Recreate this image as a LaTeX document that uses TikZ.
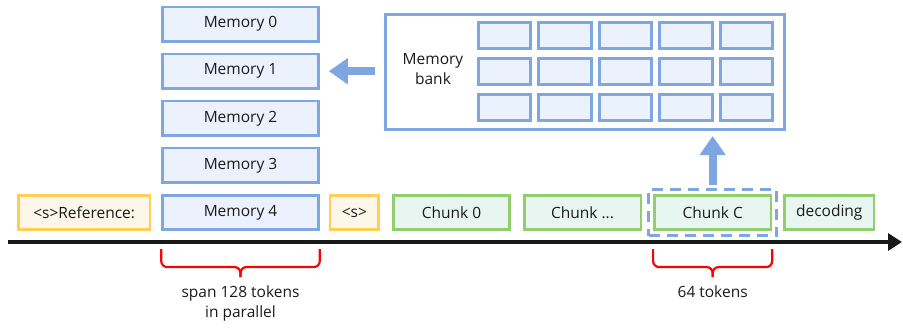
\documentclass[tikz,border=0pt]{standalone}
\usepackage{fontspec}
\setmainfont{Open Sans}
\usepackage{xcolor}
\usepackage{tikz}
\usetikzlibrary{arrows.meta, positioning, fit}

\definecolor{memblue}{HTML}{7EA6E0}
\definecolor{memfill}{HTML}{EBF2FD}
\definecolor{tokyellow}{HTML}{FFCF55}
\definecolor{tokfill}{HTML}{FFF6EA}
\definecolor{chkgreen}{HTML}{92CE6E}
\definecolor{chkfill}{HTML}{E8F6F2}
\definecolor{txtgray}{HTML}{1A1A1A}

\begin{document}
\begin{tikzpicture}[
  x=1pt, y=1pt,
  node distance=10pt and 11pt,
  font=\fontsize{15.5}{20}\selectfont, text=txtgray,
  memory/.style={draw=memblue, fill=memfill, line width=2.6pt, minimum width=156pt, minimum height=34.5pt, inner sep=0pt},
  token/.style={draw=tokyellow, fill=tokfill, line width=2.6pt, minimum height=34.5pt, inner sep=0pt},
  chunk/.style={draw=chkgreen, fill=chkfill, line width=2.6pt, minimum width=116.5pt, minimum height=34.5pt, inner sep=0pt},
  cell/.style={draw=memblue, fill=memfill, line width=2.6pt, minimum width=52.5pt, minimum height=26.5pt},
  bigarrow/.style={memblue, line width=8pt, -{Triangle[length=19pt, width=25pt]}},
  redbrace/.style={red, line width=2.2pt, rounded corners=6pt},
  axis/.style={black!90, line width=3.2pt, -{Triangle[length=14pt, width=17pt]}}
]
\useasboundingbox (0,0) rectangle (903,-327);

% Memory stack
\node[memory] (mem4) at (240.5,-212.5) {Memory 4};
\node[memory, above=of mem4] (mem3) {Memory 3};
\node[memory, above=of mem3] (mem2) {Memory 2};
\node[memory, above=of mem2] (mem1) {Memory 1};
\node[memory, above=of mem1] (mem0) {Memory 0};

% Token row
\node[token, minimum width=131.5pt, left=10pt of mem4] (ref) {<s>Reference:};
\node[token, minimum width=48.5pt, right=9pt of mem4] (bos) {<s>};
\node[chunk, right=12pt of bos] (chunk0) {Chunk 0};
\node[chunk, right=12pt of chunk0] (chunkd) {Chunk ...};
\node[chunk, right=of chunkd] (chunkC) {Chunk C};
\node[chunk, minimum width=89.5pt, right=of chunkC] (dec) {decoding};
\node[draw=memblue, line width=2.6pt, dash pattern=on 11pt off 7pt, fit=(chunkC), inner sep=4.5pt] (sel) {};

% Memory bank
\node[draw=memblue, fill=white, line width=2.6pt, minimum width=399.5pt, minimum height=115.5pt] (bank) at (585,-72) {};
\node[align=center] (banklbl) at (433,-69) {Memory\\bank};
\foreach \r in {0,1,2}
  \foreach \c in {0,...,4}
    \node[cell] (cell\r\c) at (504.5+60.5*\c, -35.5-36*\r) {};

% Arrows
\coordinate (bankin) at ([xshift=-9pt]bank.west);
\draw[bigarrow] (bankin |- mem1.east) -- ([xshift=9pt]mem1.east);
\coordinate (bankout) at ([yshift=-5pt]bank.south);
\draw[bigarrow] ([yshift=3pt]sel.north) -- (sel.north |- bankout);

% Time axis
\coordinate (axL) at (8,-242);
\coordinate (axR) at (902,-242);
\draw[axis] (axL) -- (axR);

% Braces
\coordinate (tipM) at ([yshift=-46pt]mem4.south);
\draw[redbrace] ([yshift=-18pt]mem4.south west) |- ([yshift=-36pt]mem4.south) -- (tipM);
\draw[redbrace] ([yshift=-18pt]mem4.south east) |- ([yshift=-36pt]mem4.south) -- (tipM);
\coordinate (tipC) at ([yshift=-46pt]chunkC.south);
\draw[redbrace] ([yshift=-18pt]chunkC.south west) |- ([yshift=-36pt]chunkC.south) -- (tipC);
\draw[redbrace] ([yshift=-18pt]chunkC.south east) |- ([yshift=-36pt]chunkC.south) -- (tipC);

\node[align=center, below=5pt of tipM] (spanlbl) {span 128 tokens\\in parallel};
\node[below=5pt of tipC] (toklbl) {64 tokens};
\end{tikzpicture}
\end{document}
